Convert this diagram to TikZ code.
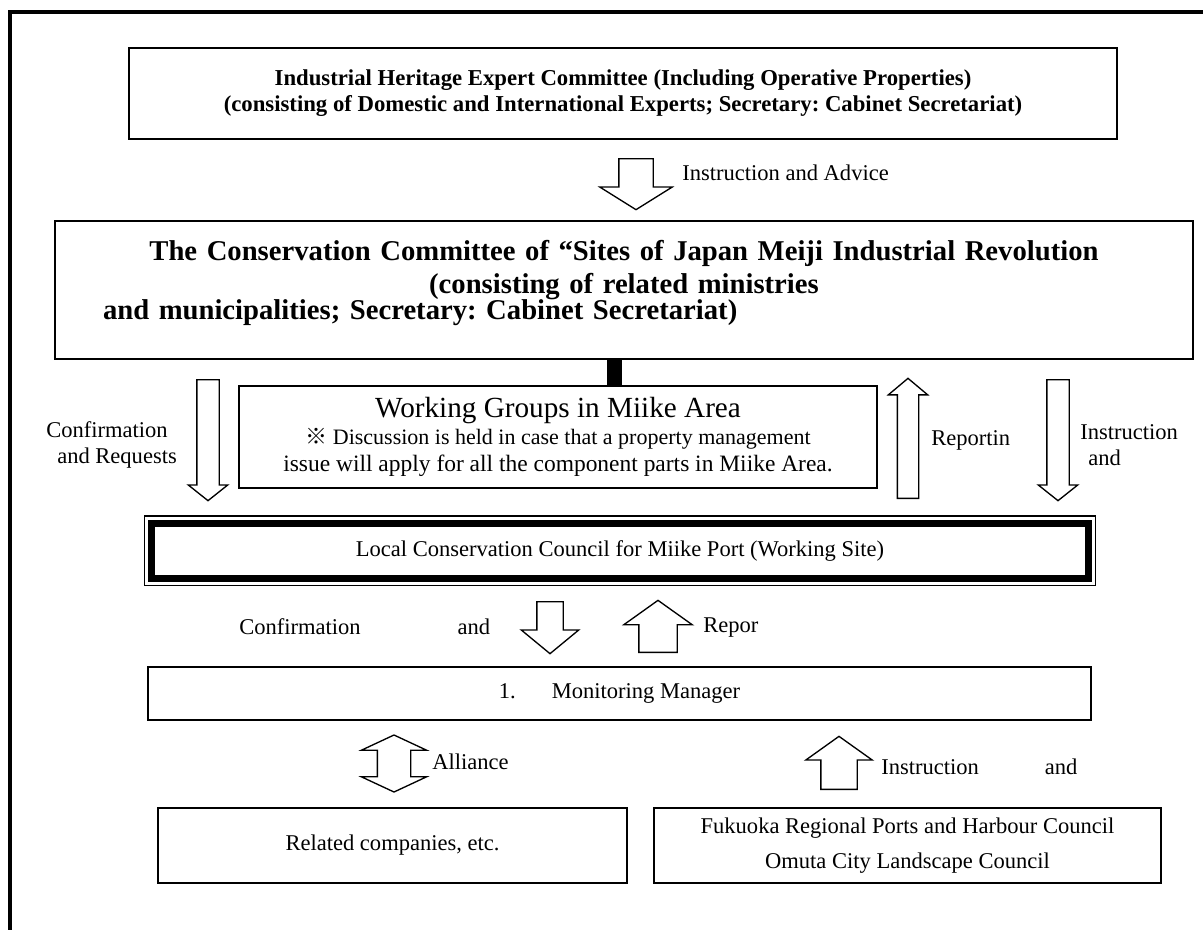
\documentclass[tikz,border=0pt]{standalone}
\usepackage{fontspec}
\setmainfont{Liberation Serif}
\newfontfamily\refmark{Noto Sans CJK JP}
\usetikzlibrary{positioning,shapes.arrows,fit}
\newdimen\pxu \pxu=0.75pt
\frenchspacing

\begin{document}
\begin{tikzpicture}[
  x=0.75pt, y=-0.75pt,
  orgbox/.style={draw, line width=1.1pt, align=center, inner sep=0pt,
                 font=\fontsize{16.9}{20}\selectfont},
  lbl/.style={font=\fontsize{16.9}{20}\selectfont, inner sep=0pt,
              anchor=west, align=left},
  blockarr/.style={draw, line width=1pt, fill=white, single arrow,
                   anchor=tail, inner xsep=0pt, minimum width=0pt},
  blockdown/.style={blockarr, rotate=-90},
  blockup/.style={blockarr, rotate=90},
  slim/.style={minimum height=121\pxu, inner ysep=10.5\pxu,
               single arrow head extend=8.5\pxu, single arrow tip angle=103},
  bar/.style={line width=15\pxu}
]
\useasboundingbox (0,0) rectangle (1203,929);

% outer frame
\draw[line width=2.4pt] (10,945) -- (10,12) -- (1220,12);

% expert committee
\node[orgbox, minimum width=988\pxu, minimum height=91\pxu,
      font=\bfseries\fontsize{17.05}{19.5}\selectfont] (iec) at (623,93.5)
  {Industrial Heritage Expert Committee (Including Operative Properties)\\
   (consisting of Domestic and International Experts; Secretary: Cabinet Secretariat)};
\node[blockdown, minimum height=51\pxu, inner ysep=16.5\pxu,
      single arrow head extend=19\pxu, single arrow tip angle=116] (advice) at (636,158) {};
\node[lbl] (advicelbl) at (682,173) {Instruction and Advice};

% conservation committee
\node[orgbox, minimum width=1138\pxu, minimum height=138\pxu, text width=1100\pxu,
      text height=20\pxu, text depth=80\pxu,
      font=\bfseries\fontsize{21.5}{24.75}\selectfont] (cc) at (624,290)
  {The Conservation Committee of “Sites of Japan Meiji Industrial Revolution\\
   (consisting of related ministries\\[-5pt]
   \makebox[\linewidth][l]{\hspace{29\pxu}and municipalities; Secretary: Cabinet Secretariat)}};

% working groups
\node[orgbox, minimum width=638\pxu, minimum height=102\pxu] (wg) at (558,437)
  {{\fontsize{21.9}{26}\selectfont Working Groups in Miike Area}\\
   {\fontsize{16.5}{20}\selectfont{\refmark ※}\ Discussion is held in case that a property management}\\
   {\fontsize{17.6}{21}\selectfont issue will apply for all the component parts in Miike Area.}};
\coordinate (barx) at (614,0);
\draw[bar] (cc.south -| barx) -- (wg.north -| barx);

% arrows to and from the local council
\node[blockdown, slim] (req) at (208,379) {};
\node[lbl] (reqlbl) at (46,445) {Confirmation\\\hspace{11\pxu}and Requests};
\node[blockup, slim, minimum height=120\pxu, inner ysep=10\pxu,
      single arrow head extend=9\pxu, single arrow tip angle=100] (rep) at (908,499) {};
\node[lbl] (replbl) at (931,440) {Reportin};
\node[blockdown, slim] (ins) at (1058,379) {};
\node[lbl] (inslbl) at (1080,445) {Instruction\\\hspace{8\pxu}and};

% local council
\node[orgbox, line width=5.25pt, minimum width=937\pxu, minimum height=55.5\pxu] (lc)
  at (620,550.75) {Local Conservation Council for Miike Port (Working Site)};
\node[draw, line width=1pt, fit=(lc), inner sep=3.5\pxu] (lcframe) {};

\node[blockdown, minimum height=52\pxu, inner ysep=12.5\pxu,
      single arrow head extend=15.5\pxu, single arrow tip angle=101] (conf) at (550,601) {};
\node[lbl] (conflbl) at (239,627) {Confirmation\hspace{97\pxu}and};
\node[blockup, minimum height=52\pxu, inner ysep=18.5\pxu,
      single arrow head extend=15\pxu, single arrow tip angle=109] (repo) at (658,653) {};
\node[lbl] (repolbl) at (703,628) {Repor};

% monitoring manager
\node[orgbox, minimum width=943\pxu, minimum height=53\pxu] (mm) at (619.5,693.5)
  {1.\hspace{36\pxu}Monitoring Manager};

\node[draw, line width=1pt, fill=white, double arrow, rotate=90,
      minimum height=57\pxu, inner xsep=0pt, inner ysep=16\pxu, minimum width=0pt,
      double arrow head extend=16\pxu, double arrow tip angle=130] (ally) at (394,763.5) {};
\node[lbl] (allylbl) at (432,762) {Alliance};

\node[blockup, minimum height=53\pxu, inner ysep=17.5\pxu,
      single arrow head extend=15\pxu, single arrow tip angle=109] (instr) at (839,790) {};
\node[lbl] (instrlbl) at (881,767) {Instruction\hspace{66\pxu}and};

% bottom bodies
\node[orgbox, minimum width=469\pxu, minimum height=75\pxu] (rc) at (392.5,845.5)
  {Related companies, etc.};
\node[orgbox, minimum width=507\pxu, minimum height=75\pxu,
      font=\fontsize{16.9}{26.25}\selectfont] (fk) at (907.5,845.5)
  {Fukuoka Regional Ports and Harbour Council\\Omuta City Landscape Council};

\end{tikzpicture}
\end{document}
